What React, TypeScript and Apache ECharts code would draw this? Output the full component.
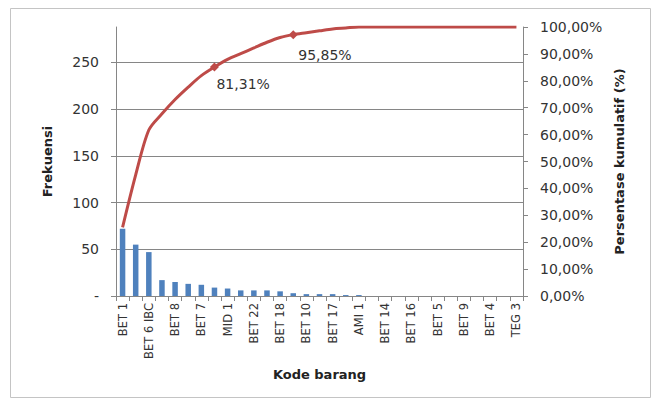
import React, { useEffect, useRef } from "react";
import * as echarts from "echarts";

const categories = [
  "BET 1", "BET 2", "BET 6 IBC", "BET 3", "BET 8", "BET 6", "BET 7", "BET 11",
  "MID 1", "BET 12", "BET 22", "BET 13", "BET 18", "BET 15", "BET 10", "BET 19",
  "BET 17", "BET 20", "AMI 1", "BET 21", "BET 14", "MID 2", "BET 16", "AMI 2",
  "BET 5", "TEG 1", "BET 9", "TEG 2", "BET 4", "BET 23", "TEG 3",
];
const frequency = [
  72, 55, 47, 17, 15, 13, 12, 9, 8, 6, 6, 6, 5, 3, 2, 2, 2, 1, 1, 0, 0, 0, 0, 0,
  0, 0, 0, 0, 0, 0, 0,
];
const leftTicks = [0, 50, 100, 150, 200, 250];
const annotations = [
  { index: 7, text: "81,31%", offset: [2, 4] },
  { index: 13, text: "95,85%", offset: [5, 8] },
];

const FONT = "DejaVu Sans";

export default function App() {
  const ref = useRef<HTMLDivElement>(null);
  useEffect(() => {
    document.body.style.margin = "0";
    if (!ref.current) return;
    const chart = echarts.init(ref.current, null, { renderer: "svg" });
    const total = frequency.reduce((a, b) => a + b, 0);
    let run = 0;
    const cumulative = frequency.map((f) => {
      run += f;
      return run / total;
    });
    const lineData = cumulative.map((v, i) => {
      const ann = annotations.find((a) => a.index === i);
      if (!ann) return v;
      return {
        value: v,
        symbol: "diamond",
        symbolSize: 9,
        label: {
          show: true,
          position: "bottom",
          align: "left",
          distance: 1,
          offset: ann.offset,
          formatter: () => ann.text,
          color: "#333",
          fontFamily: FONT,
          fontSize: 14,
        },
      };
    });
    const axisGray = "#868686";
    chart.setOption({
      animation: false,
      backgroundColor: "#fff",
      graphic: [
        {
          type: "rect",
          shape: { x: 10.5, y: 8.5, width: 640, height: 389 },
          style: { fill: "none", stroke: "#c4c4c4", lineWidth: 1 },
          silent: true,
        },
      ],
      grid: {
        left: 116,
        right: 132,
        top: 27,
        bottom: 105,
        containLabel: false,
        outerBoundsMode: "none",
      },
      xAxis: {
        type: "category",
        data: categories,
        boundaryGap: true,
        name: "Kode barang",
        nameLocation: "middle",
        nameGap: 72,
        nameTextStyle: { fontFamily: FONT, fontWeight: "bold", fontSize: 13, color: "#222" },
        axisLine: { lineStyle: { color: axisGray } },
        axisTick: { show: true, interval: 0, length: 5, lineStyle: { color: axisGray } },
        axisLabel: {
          interval: 1,
          rotate: 90,
          fontFamily: FONT,
          fontSize: 11.5,
          color: "#333",
          margin: 7,
        },
        splitLine: { show: false },
      },
      yAxis: [
        {
          type: "value",
          min: 0,
          max: 288,
          interval: 50,
          name: "Frekuensi",
          nameLocation: "middle",
          nameGap: 62,
          nameRotate: 90,
          nameTextStyle: { fontFamily: FONT, fontWeight: "bold", fontSize: 13, color: "#222" },
          axisLine: { show: true, lineStyle: { color: axisGray } },
          axisTick: { show: true, length: 5, lineStyle: { color: axisGray } },
          axisLabel: {
            showMaxLabel: false,
            margin: 17,
            fontFamily: FONT,
            fontSize: 14,
            color: "#333",
            formatter: (v: number) =>
              leftTicks.includes(v) ? (v === 0 ? "-" : String(v)) : "",
          },
          splitLine: {
            show: true,
            showMinLine: false,
            showMaxLine: false,
            lineStyle: { color: axisGray, width: 1 },
          },
        },
        {
          type: "value",
          min: 0,
          max: 1,
          interval: 0.1,
          position: "right",
          name: "Persentase kumulatif (%)",
          nameLocation: "middle",
          nameGap: 90,
          nameRotate: 90,
          nameTextStyle: { fontFamily: FONT, fontWeight: "bold", fontSize: 13, color: "#222" },
          axisLine: { show: true, lineStyle: { color: axisGray } },
          axisTick: { show: true, length: 5, lineStyle: { color: axisGray } },
          axisLabel: {
            margin: 17,
            fontFamily: FONT,
            fontSize: 14,
            color: "#333",
            formatter: (v: number) => (v * 100).toFixed(2).replace(".", ",") + "%",
          },
          splitLine: { show: false },
        },
      ],
      series: [
        {
          type: "bar",
          yAxisIndex: 0,
          data: frequency,
          barWidth: 5.5,
          itemStyle: { color: "#4F81BD" },
        },
        {
          type: "line",
          yAxisIndex: 1,
          data: lineData,
          smooth: 0.3,
          symbol: "none",
          showSymbol: true,
          lineStyle: { color: "#BE4B48", width: 3 },
          itemStyle: { color: "#BE4B48" },
          z: 5,
        },
      ],
    });
    return () => chart.dispose();
  }, []);
  return <div ref={ref} style={{ width: 655, height: 401 }} />;
}
